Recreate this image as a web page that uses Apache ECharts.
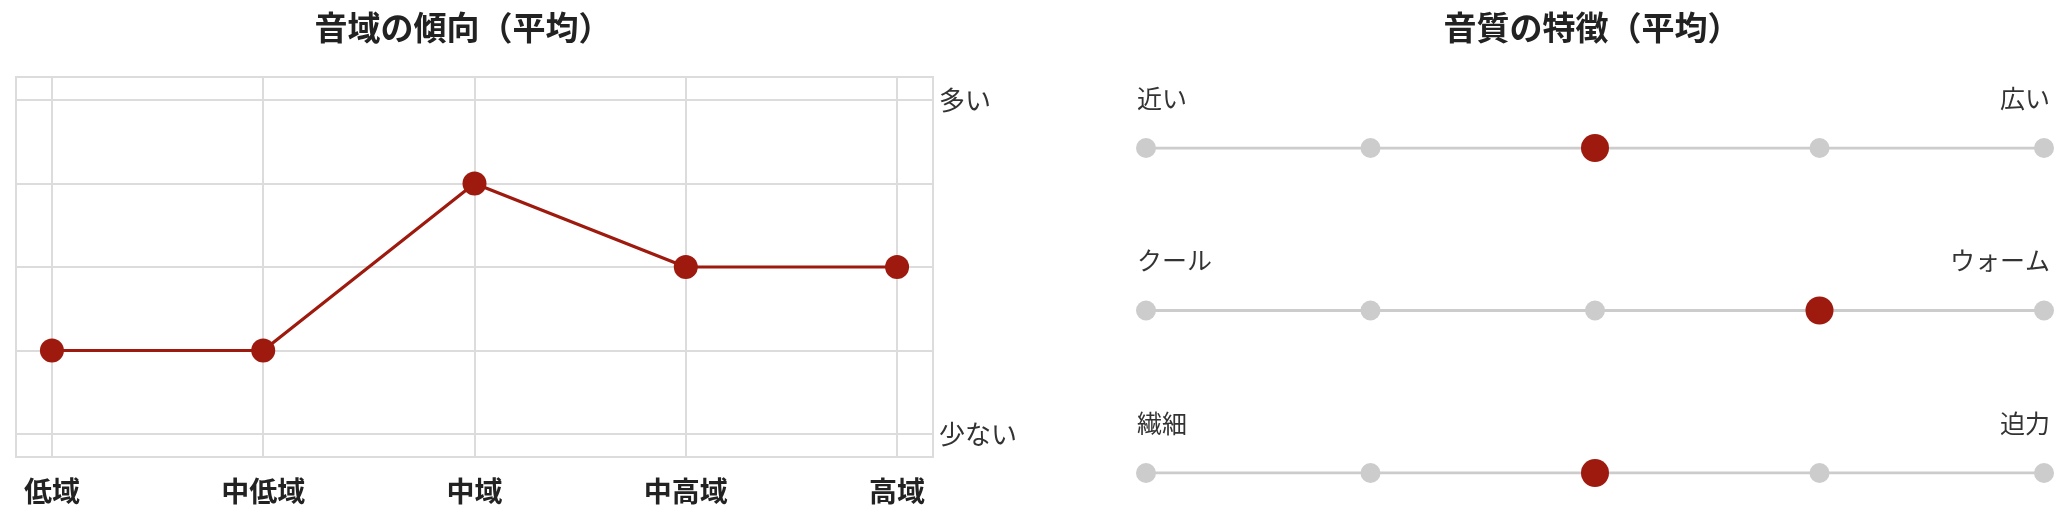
<!DOCTYPE html>
<html>
<head>
<meta charset="utf-8">
<script src="https://cdn.jsdelivr.net/npm/echarts@6/dist/echarts.min.js"></script>
<style>
html,body{margin:0;padding:0;background:#fff;}
#chart{width:2070px;height:506px;}
</style>
</head>
<body>
<div id="chart"></div>
<script>
// ---- Data ----
const rangeTitle = '音域の傾向（平均）';
const rangeCategories = ['低域', '中低域', '中域', '中高域', '高域'];
const rangeValues = [1, 1, 3, 2, 2];
const rangeLevels = [0, 1, 2, 3, 4];
const rangeLevelLabels = { 0: '少ない', 4: '多い' };

const qualityTitle = '音質の特徴（平均）';
const qualityLeftLabels = ['近い', 'クール', '繊細'];
const qualityRightLabels = ['広い', 'ウォーム', '迫力'];
const qualityValues = [3, 4, 3];
const qualitySteps = [1, 2, 3, 4, 5];

// ---- Styles ----
const FONT = '"Noto Sans CJK JP", "Noto Sans", sans-serif';
const RED = '#9e1a0e';
const GRID_LINE = '#dcdcdc';
const GRAY = '#cccccc';

const chart = echarts.init(document.getElementById('chart'));

const rangeData = rangeCategories.map((c, i) => [i, rangeValues[i]]);

const qualityRowSeries = qualityLeftLabels.map((lbl, row) => ({
  type: 'line',
  xAxisIndex: 1, yAxisIndex: 1,
  silent: true,
  symbol: 'circle',
  symbolSize: 20,
  itemStyle: { color: GRAY },
  lineStyle: { color: GRAY, width: 3 },
  z: 2,
  data: qualitySteps.map((s, k) => {
    const item = { value: [s, row] };
    if (k === 0) {
      item.label = { show: true, position: 'top', align: 'left', offset: [-9, -22],
        formatter: qualityLeftLabels[row], fontSize: 25, color: '#333', fontFamily: FONT };
    } else if (k === qualitySteps.length - 1) {
      item.label = { show: true, position: 'top', align: 'right', offset: [6, -22],
        formatter: qualityRightLabels[row], fontSize: 25, color: '#333', fontFamily: FONT };
    }
    return item;
  })
}));

const option = {
  backgroundColor: '#fff',
  animation: false,
  textStyle: { fontFamily: FONT },
  title: [
    { text: rangeTitle, left: 463, top: 11, textAlign: 'center', padding: 0,
      textStyle: { fontSize: 33, fontWeight: 'bold', color: '#222', fontFamily: FONT } },
    { text: qualityTitle, left: 1592, top: 11, textAlign: 'center', padding: 0,
      textStyle: { fontSize: 33, fontWeight: 'bold', color: '#222', fontFamily: FONT } }
  ],
  grid: [
    { left: 16, top: 77, width: 917, height: 380, show: true,
      borderColor: GRID_LINE, borderWidth: 2, backgroundColor: 'transparent' },
    { left: 1146, top: 148, width: 898, height: 325 }
  ],
  xAxis: [
    {
      gridIndex: 0, type: 'value', min: -0.17, max: 4.17,
      axisLine: { show: false },
      axisTick: { show: false, customValues: rangeLevels },
      splitLine: { show: true, lineStyle: { color: GRID_LINE, width: 2 } },
      axisLabel: {
        customValues: rangeLevels, margin: 20, fontSize: 28, fontWeight: 'bold',
        color: '#222', fontFamily: FONT,
        formatter: v => rangeCategories[Math.round(v)]
      }
    },
    {
      gridIndex: 1, type: 'value', min: 1, max: 5, show: false
    }
  ],
  yAxis: [
    {
      gridIndex: 0, type: 'value', min: -0.275, max: 4.275, position: 'right',
      axisLine: { show: false },
      axisTick: { show: false, customValues: rangeLevels },
      splitLine: { show: true, lineStyle: { color: GRID_LINE, width: 2 } },
      axisLabel: {
        customValues: [0, 4], margin: 6, fontSize: 26, color: '#333',
        fontFamily: FONT, verticalAlign: 'middle', padding: [6, 0, 0, 0],
        formatter: v => rangeLevelLabels[Math.round(v)] || ''
      }
    },
    {
      gridIndex: 1, type: 'value', min: 0, max: 2, inverse: true, show: false
    }
  ],
  series: [
    {
      type: 'line',
      xAxisIndex: 0, yAxisIndex: 0,
      data: rangeData,
      symbol: 'circle',
      symbolSize: 24,
      itemStyle: { color: RED },
      lineStyle: { color: RED, width: 3.2 },
      z: 3
    },
    ...qualityRowSeries,
    {
      type: 'scatter',
      xAxisIndex: 1, yAxisIndex: 1,
      symbol: 'circle',
      symbolSize: 28,
      itemStyle: { color: RED, opacity: 1 },
      z: 5,
      data: qualityValues.map((v, row) => [v, row])
    }
  ]
};
chart.setOption(option);
</script>
</body>
</html>
